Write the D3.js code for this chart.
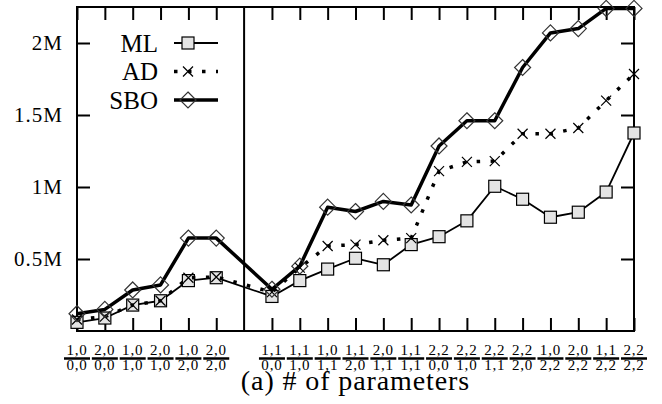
<!DOCTYPE html>
<html>
<head>
<meta charset="utf-8">
<script src="https://d3js.org/d3.v7.min.js"></script>
<style>
  body { margin: 0; background: #fff; }
  svg text { font-family: "Liberation Serif", serif; fill: #000; }
</style>
</head>
<body>
<div id="chart"></div>
<script>
// x categories, written as "numerator/denominator"
const leftGroup = ["1,0/0,0", "2,0/0,0", "1,0/1,0", "2,0/1,0", "1,0/2,0", "2,0/2,0"];
const rightGroup = ["1,1/0,0", "1,1/1,0", "1,0/1,1", "1,1/2,0", "2,0/1,1", "1,1/1,1", "2,2/0,0",
                    "2,2/1,0", "2,2/1,1", "2,2/2,0", "1,0/2,2", "2,0/2,2", "1,1/2,2", "2,2/2,2"];
const categories = leftGroup.concat(rightGroup);

// values in millions
const ml  = [0.06, 0.09, 0.18, 0.21, 0.35, 0.37,
             0.24, 0.35, 0.43, 0.505, 0.46, 0.60, 0.655, 0.765, 1.005, 0.915, 0.79, 0.825, 0.965, 1.375];
const ad  = [0.08, 0.10, 0.18, 0.21, 0.37, 0.375,
             0.27, 0.44, 0.59, 0.60, 0.63, 0.645, 1.11, 1.175, 1.18, 1.37, 1.37, 1.41, 1.60, 1.785];
const sbo = [0.12, 0.15, 0.285, 0.32, 0.645, 0.645,
             0.29, 0.45, 0.86, 0.83, 0.90, 0.875, 1.285, 1.46, 1.46, 1.83, 2.07, 2.10, 2.24, 2.24];

const yTicks = [0.5, 1, 1.5, 2];
const yTickLabels = ["0.5M", "1M", "1.5M", "2M"];
const seriesNames = ["ML", "AD", "SBO"];
const xTitle = "(a) # of parameters";

const width = 662, height = 404;
const mLeft = 77, mRight = 634, mTop = 7, mBottom = 331;

const svg = d3.select("#chart").append("svg")
  .attr("width", width)
  .attr("height", height);

// a blank slot between the two groups holds the separator line
const domain = leftGroup.concat(["sep"], rightGroup);
const x = d3.scalePoint().domain(domain).range([mLeft, mRight]);
const y = d3.scaleLinear().domain([0, 2.25]).range([mBottom, mTop]);

const tickCats = domain.filter(d => d != "sep");

function styleAxis(g) {
  g.select(".domain").remove();
  g.selectAll(".tick line").attr("stroke", "#000").attr("stroke-width", 2);
}

svg.append("g")
  .attr("transform", "translate(" + mLeft + ",0)")
  .call(d3.axisLeft(y).tickValues(yTicks).tickSize(-13).tickPadding(14)
    .tickFormat((d, i) => yTickLabels[i]))
  .call(styleAxis)
  .selectAll("text")
  .attr("font-size", 21)
  .attr("letter-spacing", 1)
  .attr("font-family", "Liberation Serif");

svg.append("g")
  .attr("transform", "translate(" + mRight + ",0)")
  .call(d3.axisRight(y).tickValues(yTicks).tickSize(-13).tickFormat(""))
  .call(styleAxis);

svg.append("g")
  .attr("transform", "translate(0," + mBottom + ")")
  .call(d3.axisBottom(x).tickValues(tickCats).tickSize(-13).tickFormat(""))
  .call(styleAxis);

svg.append("g")
  .attr("transform", "translate(0," + mTop + ")")
  .call(d3.axisTop(x).tickValues(tickCats).tickSize(-13).tickFormat(""))
  .call(styleAxis);

// frame and separator
svg.append("rect")
  .attr("x", mLeft).attr("y", mTop)
  .attr("width", mRight - mLeft).attr("height", mBottom - mTop)
  .attr("fill", "none").attr("stroke", "#000").attr("stroke-width", 2);

svg.append("line")
  .attr("x1", x("sep")).attr("x2", x("sep"))
  .attr("y1", mTop).attr("y2", mBottom)
  .attr("stroke", "#000").attr("stroke-width", 2);

// fraction tick labels
const lab = svg.append("g").selectAll("g")
  .data(categories)
  .enter().append("g")
  .attr("transform", d => "translate(" + x(d) + ",0)");

lab.append("text")
  .attr("y", 354.5)
  .attr("text-anchor", "middle")
  .attr("font-size", 15)
  .attr("letter-spacing", 0.8)
  .text(d => d.split("/")[0]);

lab.append("line")
  .attr("x1", -13).attr("x2", 13)
  .attr("y1", 358.5).attr("y2", 358.5)
  .attr("stroke", "#000").attr("stroke-width", 2.5);

lab.append("text")
  .attr("y", 369.5)
  .attr("text-anchor", "middle")
  .attr("font-size", 15)
  .attr("letter-spacing", 0.8)
  .text(d => d.split("/")[1]);

svg.append("text")
  .attr("x", (mLeft + mRight) / 2)
  .attr("y", 390)
  .attr("text-anchor", "middle")
  .attr("font-size", 28)
  .attr("letter-spacing", 0.9)
  .text(xTitle);

// series
const line = d3.line()
  .x((d, i) => x(categories[i]))
  .y(d => y(d));

function squareMark(g, px, py) {
  g.append("rect")
    .attr("x", px - 6).attr("y", py - 6)
    .attr("width", 12).attr("height", 12)
    .attr("fill", "#e4e4e4").attr("stroke", "#000").attr("stroke-width", 1.2);
}
function crossMark(g, px, py) {
  g.append("path")
    .attr("d", "M" + (px - 5) + "," + (py - 5) + "L" + (px + 5) + "," + (py + 5) +
               "M" + (px - 5) + "," + (py + 5) + "L" + (px + 5) + "," + (py - 5))
    .attr("fill", "none").attr("stroke", "#000").attr("stroke-width", 1.2);
}
function diamondMark(g, px, py) {
  g.append("path")
    .attr("d", "M" + px + "," + (py - 8) + "L" + (px + 8) + "," + py +
               "L" + px + "," + (py + 8) + "L" + (px - 8) + "," + py + "Z")
    .attr("fill", "none").attr("stroke", "#333").attr("stroke-width", 1.2);
}

const series = [
  { name: seriesNames[0], values: ml, width: 1.8, dash: null, mark: squareMark },
  { name: seriesNames[1], values: ad, width: 3.5, dash: "3.5,10.5", mark: crossMark },
  { name: seriesNames[2], values: sbo, width: 3.5, dash: null, mark: diamondMark }
];

series.forEach((s, k) => {
  const g = svg.append("g");
  g.append("path")
    .datum(s.values)
    .attr("d", line)
    .attr("fill", "none")
    .attr("stroke", "#000")
    .attr("stroke-width", s.width)
    .attr("stroke-linejoin", "round")
    .attr("stroke-dasharray", s.dash);
  s.values.forEach((v, i) => s.mark(g, x(categories[i]), y(v)));

  // legend entry
  const ly = 43 + k * 28.5;
  const lg = svg.append("g");
  lg.append("text")
    .attr("x", 158).attr("y", ly + 8.5)
    .attr("text-anchor", "end")
    .attr("font-size", 25)
    .text(s.name);
  lg.append("line")
    .attr("x1", 174).attr("x2", 218)
    .attr("y1", ly).attr("y2", ly)
    .attr("stroke", "#000")
    .attr("stroke-width", s.width)
    .attr("stroke-dasharray", s.dash);
  s.mark(lg, 188, ly);
});
</script>
</body>
</html>
